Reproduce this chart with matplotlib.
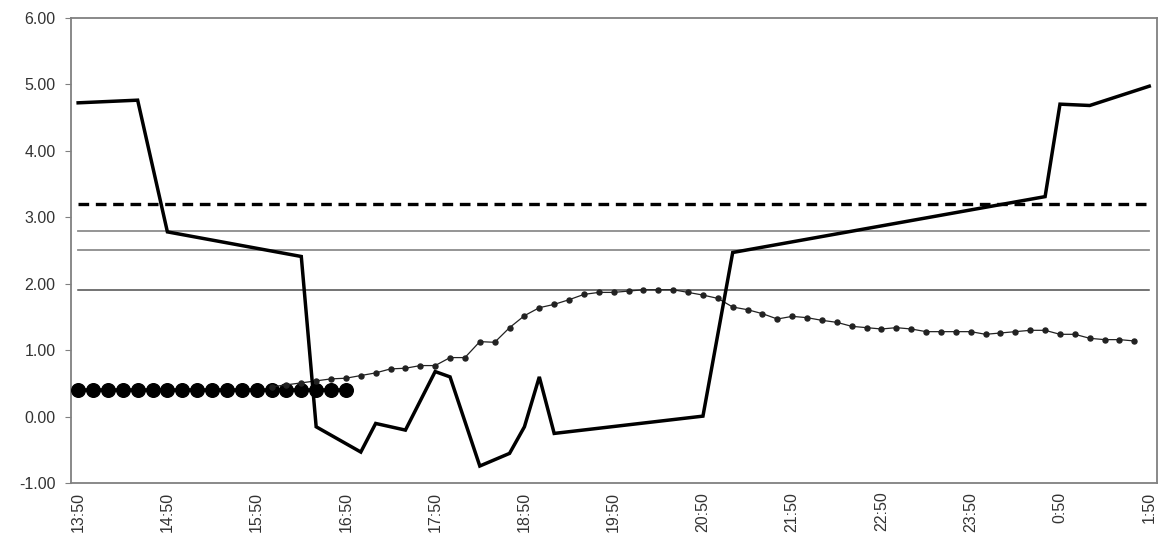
import numpy as np
import matplotlib
matplotlib.use("Agg")
import matplotlib.pyplot as plt

# 10-minute categories from 13:50 to 1:50
times = []
h, m = 13, 50
for i in range(73):
    times.append(f"{h}:{m:02d}")
    m += 10
    if m == 60:
        m = 0
        h = (h + 1) % 24
tick_labels = ["13:50", "14:50", "15:50", "16:50", "17:50", "18:50", "19:50",
               "20:50", "21:50", "22:50", "23:50", "0:50", "1:50"]

# thick solid series: (category time, value)
solid_times = ["13:50", "14:30", "14:50", "16:20", "16:30", "17:00", "17:10",
               "17:30", "17:50", "18:00", "18:20", "18:40", "18:50", "19:00",
               "19:10", "20:50", "21:10", "0:40", "0:50", "1:10", "1:50"]
solid_values = [4.72, 4.76, 2.78, 2.41, -0.15, -0.53, -0.10, -0.20, 0.68, 0.60,
                -0.74, -0.55, -0.15, 0.60, -0.25, 0.01, 2.47, 3.31, 4.70, 4.68, 4.97]

# small-marker series, from 16:00 to 1:40
dot_start = "16:00"
dot_values = [0.45, 0.48, 0.51, 0.54, 0.57, 0.58, 0.62, 0.66, 0.72, 0.73, 0.77,
              0.77, 0.89, 0.89, 1.13, 1.12, 1.34, 1.52, 1.64, 1.69, 1.76, 1.84,
              1.87, 1.87, 1.89, 1.91, 1.91, 1.91, 1.87, 1.83, 1.78, 1.65, 1.61,
              1.55, 1.47, 1.51, 1.49, 1.45, 1.42, 1.36, 1.34, 1.32, 1.34, 1.32,
              1.28, 1.28, 1.28, 1.28, 1.24, 1.26, 1.28, 1.30, 1.30, 1.24, 1.24,
              1.18, 1.16, 1.16, 1.14]

# big-dot series 13:50 .. 16:50
big_end = "16:50"
big_value = 0.40

# constant reference lines
dashed_level = 3.20
gray_levels = [2.80, 2.50]
dark_level = 1.90

fig = plt.figure(figsize=(11.59, 5.36), dpi=100)
ax = fig.add_axes([0.061, 0.0983, 0.937, 0.8687])

n = len(times)
idx = np.arange(n)
pos = {t: i for i, t in enumerate(times)}

for lv in gray_levels:
    ax.plot(idx, [lv] * n, color="#8c8c8c", lw=1.3, zorder=2)
ax.plot(idx, [dark_level] * n, color="#4d4d4d", lw=1.1, zorder=2)
ax.plot(idx, [dashed_level] * n, color="black", lw=2.4, dashes=(3.2, 2.0), zorder=3)

b_end = pos[big_end]
ax.plot(idx[:b_end + 1], [big_value] * (b_end + 1), color="black", lw=2.6,
        marker="o", markersize=9.8, zorder=4)

d0 = pos[dot_start]
ax.plot(np.arange(d0, d0 + len(dot_values)), dot_values, color="#222222", lw=0.9,
        marker="o", markersize=3.6, zorder=5)

ax.plot([pos[t] for t in solid_times], solid_values, color="black", lw=2.5,
        solid_joinstyle="miter", zorder=6)

ax.set_xlim(-0.5, n - 0.5)
ax.set_ylim(-1, 6)
ax.set_yticks(np.arange(-1, 7, 1))
ax.set_yticklabels([f"{v:.2f}" for v in np.arange(-1, 7, 1)],
                   fontsize=11.5, family="Liberation Sans", color="#333333")
ax.set_xticks([pos[t] for t in tick_labels])
ax.set_xticklabels(tick_labels, rotation=90, fontsize=11.5,
                   family="Liberation Sans", color="#333333")
ax.tick_params(axis="x", length=0, pad=6)
ax.tick_params(axis="y", length=4, color="#808080", pad=7)
for s in ax.spines.values():
    s.set_color("#808080")
    s.set_linewidth(1.3)

fig.savefig("out.png", dpi=100)
